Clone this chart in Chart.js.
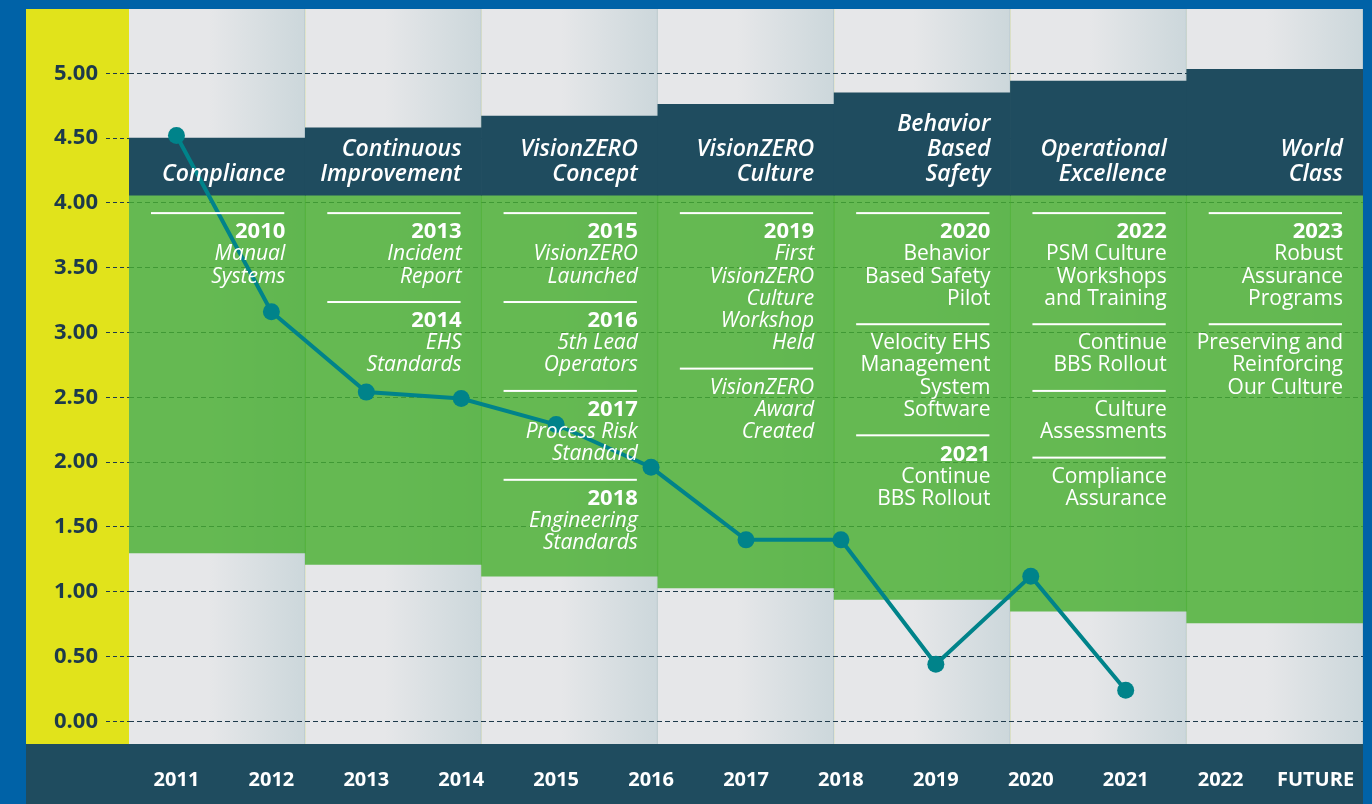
<!DOCTYPE html>
<html>
<head>
<meta charset="utf-8">
<title>VisionZERO Journey</title>
<script src="https://cdn.jsdelivr.net/npm/chart.js@4.4.1/dist/chart.umd.min.js"></script>
<style>
  html, body { margin: 0; padding: 0; }
  body { width: 1372px; height: 804px; background: #0062a7; position: relative; overflow: hidden; }
  #wrap { position: absolute; left: 26px; top: 9px; width: 1337px; height: 795px; background: #e1e31b; }
</style>
</head>
<body>
<div id="wrap"><canvas id="chart"></canvas></div>
<script>
// ---- DATA ----
var years = ['2011', '2012', '2013', '2014', '2015', '2016', '2017', '2018', '2019', '2020', '2021', '2022', 'FUTURE'];
var rates = [4.52, 3.16, 2.54, 2.49, 2.29, 1.96, 1.40, 1.40, 0.44, 1.12, 0.24, null, null];
var yTicks = [0, 0.5, 1, 1.5, 2, 2.5, 3, 3.5, 4, 4.5, 5];
var yMin = -0.175, yMax = 5.496;

// phases along the top
var phases = ['Compliance', 'Continuous Improvement', 'VisionZERO Concept', 'VisionZERO Culture',
              'Behavior Based Safety', 'Operational Excellence', 'World Class'];
var phaseTitles = [['Compliance'], ['Continuous', 'Improvement'], ['VisionZERO', 'Concept'],
                   ['VisionZERO', 'Culture'], ['Behavior', 'Based', 'Safety'],
                   ['Operational', 'Excellence'], ['World', 'Class']];
var headerTop   = [4.50, 4.58, 4.67, 4.76, 4.85, 4.94, 5.03];
var bandSplit   = 4.06;
var greenBottom = [1.30, 1.21, 1.12, 1.03, 0.94, 0.85, 0.76];
var italicNotes = [true, true, true, true, false, false, false];

// milestones per phase
var phaseNotes = [
  [ { year: '2010', lines: ['Manual', 'Systems'] } ],
  [ { year: '2013', lines: ['Incident', 'Report'] },
    { year: '2014', lines: ['EHS', 'Standards'] } ],
  [ { year: '2015', lines: ['VisionZERO', 'Launched'] },
    { year: '2016', lines: ['5th Lead', 'Operators'] },
    { year: '2017', lines: ['Process Risk', 'Standard'] },
    { year: '2018', lines: ['Engineering', 'Standards'] } ],
  [ { year: '2019', lines: ['First', 'VisionZERO', 'Culture', 'Workshop', 'Held'] },
    { year: null,   lines: ['VisionZERO', 'Award', 'Created'] } ],
  [ { year: '2020', lines: ['Behavior', 'Based Safety', 'Pilot'] },
    { year: null,   lines: ['Velocity EHS', 'Management', 'System', 'Software'] },
    { year: '2021', lines: ['Continue', 'BBS Rollout'] } ],
  [ { year: '2022', lines: ['PSM Culture', 'Workshops', 'and Training'] },
    { year: null,   lines: ['Continue', 'BBS Rollout'] },
    { year: null,   lines: ['Culture', 'Assessments'] },
    { year: null,   lines: ['Compliance', 'Assurance'] } ],
  [ { year: '2023', lines: ['Robust', 'Assurance', 'Programs'] },
    { year: null,   lines: ['Preserving and', 'Reinforcing', 'Our Culture'] } ]
];

var FONT = '"Open Sans", sans-serif';
var NAVY = '#1f4c5f';

// column edges from the hidden phase axis
function colEdges(chart, i) {
  var xs = chart.scales.xPhase;
  return { left: xs.getPixelForValue(i - 0.5), right: xs.getPixelForValue(i + 0.5) };
}

// ---- TEXTS: phase titles + milestone lists ----
function drawNotes(chart) {
  var ctx = chart.ctx, ys = chart.scales.y;
  var split = ys.getPixelForValue(bandSplit);
  ctx.save();
  ctx.fillStyle = '#fff';
  ctx.textAlign = 'right';
  ctx.textBaseline = 'alphabetic';
  phaseTitles.forEach(function(title, i) {
    var e = colEdges(chart, i);
    var tx = e.right - 20;
    ctx.font = 'italic 600 23px ' + FONT;
    title.forEach(function(t, k) {
      var cy = split - 22 - (title.length - 1 - k) * 25;
      ctx.fillText(t, tx, cy + 8);
    });
    var y = split + 18;
    phaseNotes[i].forEach(function(n) {
      ctx.fillRect(e.left + 22, y - 1, e.right - e.left - 43, 2);
      var cy = y + 17.5;
      if (n.year) {
        ctx.font = 'bold 22px ' + FONT;
        ctx.fillText(n.year, tx, cy + 7.8);
        cy += 22.2;
      }
      ctx.font = (italicNotes[i] ? 'italic ' : '') + '21px ' + FONT;
      n.lines.forEach(function(s) {
        ctx.fillText(s, tx, cy + 7.5);
        cy += 22.2;
      });
      y = cy - 22.2 + 27;
    });
  });
  ctx.restore();
}

// ---- BACKDROP: dark axis band + grey column gradients (under the grid) ----
var backdrop = {
  id: 'backdrop',
  beforeDraw: function(chart) {
    var ctx = chart.ctx, a = chart.chartArea;
    ctx.save();
    ctx.fillStyle = NAVY;
    ctx.fillRect(0, a.bottom, chart.width, chart.height - a.bottom);
    phases.forEach(function(p, i) {
      var e = colEdges(chart, i);
      var g = ctx.createLinearGradient(e.left, 0, e.right, 0);
      g.addColorStop(0, '#e6e7e9');
      g.addColorStop(0.45, '#e6e7e9');
      g.addColorStop(1, '#ccd7db');
      ctx.fillStyle = g;
      ctx.fillRect(e.left, a.top, e.right - e.left, a.bottom - a.top);
      ctx.fillStyle = '#b9c9d0';
      ctx.fillRect(e.right - 1, a.top, 1, a.bottom - a.top);
    });
    ctx.restore();
  },
  afterDraw: drawNotes
};

// ---- CHART ----
Chart.defaults.font.family = FONT;

new Chart(document.getElementById('chart'), {
  type: 'bar',
  data: {
    labels: years,
    datasets: [
      { type: 'line', label: 'Rate', data: rates, xAxisID: 'x', yAxisID: 'y', order: 0,
        borderColor: '#00838a', borderWidth: 4, tension: 0, clip: false,
        pointRadius: 8.5, pointBackgroundColor: '#00838a', pointBorderWidth: 0, pointHoverRadius: 8.5 },
      { label: 'Phase', data: headerTop.map(function(v) { return [bandSplit, v]; }),
        xAxisID: 'xPhase', yAxisID: 'y', order: 1,
        backgroundColor: NAVY, borderWidth: 0, grouped: false,
        barPercentage: 1, categoryPercentage: 1 },
      { label: 'Milestones', data: greenBottom.map(function(v) { return [v, bandSplit]; }),
        xAxisID: 'xPhase', yAxisID: 'y', order: 2,
        backgroundColor: 'rgba(72,175,49,0.82)', borderWidth: 0, grouped: false,
        barPercentage: 1, categoryPercentage: 1 }
    ]
  },
  options: {
    responsive: true,
    maintainAspectRatio: false,
    animation: false,
    layout: { padding: 0, autoPadding: false },
    plugins: { legend: { display: false }, tooltip: { enabled: false } },
    scales: {
      x: {
        type: 'category',
        offset: true,
        afterFit: function(s) { s.height = 60; s.paddingLeft = 0; s.paddingRight = 0; },
        grid: { display: false, drawTicks: false },
        border: { display: false },
        ticks: { color: '#fff', padding: 24, maxRotation: 0, autoSkip: false,
                 font: { size: 20, weight: 'bold' } }
      },
      xPhase: {
        type: 'category',
        labels: phases,
        offset: true,
        display: false
      },
      y: {
        min: yMin,
        max: yMax,
        afterFit: function(s) { s.width = 103; s.paddingTop = 0; s.paddingBottom = 0; },
        afterBuildTicks: function(s) { s.ticks = yTicks.map(function(v) { return { value: v }; }); },
        grid: { color: '#1e3a4b', lineWidth: 1, tickLength: 23, tickColor: '#1e3a4b',
                tickWidth: 1, tickBorderDash: [4, 3] },
        border: { display: false, dash: [5, 3] },
        ticks: { color: '#1d3a4b', padding: 8, font: { size: 22, weight: 'bold' },
                 callback: function(v) { return Number(v).toFixed(2); } }
      }
    }
  },
  plugins: [backdrop]
});
</script>
</body>
</html>
